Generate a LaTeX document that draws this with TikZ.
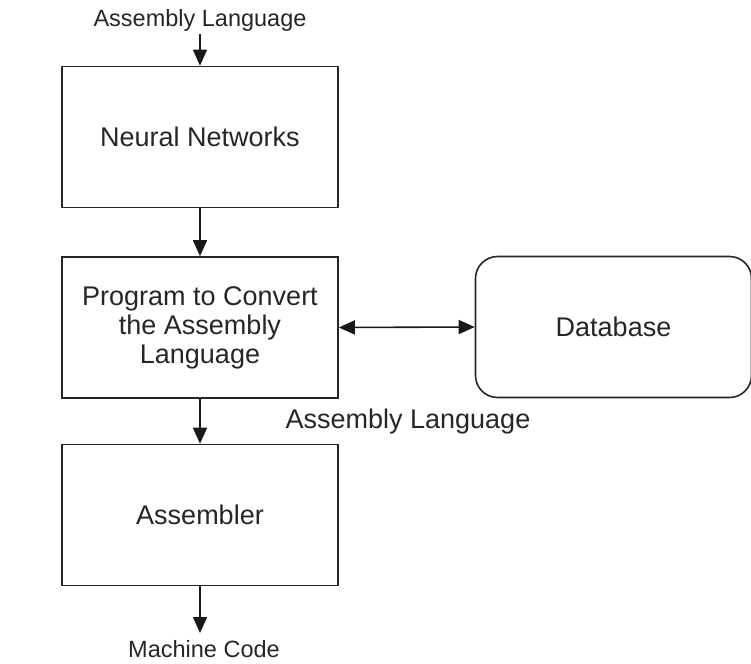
\documentclass[tikz,border=0pt]{standalone}
\usepackage{fontspec}
\setmainfont{Liberation Sans}
\usetikzlibrary{arrows.meta}
\begin{document}
\begin{tikzpicture}[x=1pt,y=-1pt,
  box/.style={draw=black!85,line width=1.6pt,minimum width=276pt,minimum height=141pt,inner sep=0pt,font=\fontsize{27}{29}\selectfont,align=center,text=black!85},
  rbox/.style={box,rounded corners=22pt},
  lbl/.style={inner sep=0pt,font=\fontsize{23.5}{27}\selectfont,text=black!85},
  conn/.style={draw=black!90,line width=1.6pt,-{Triangle[length=16pt,width=14pt]}},
  conn2/.style={draw=black!90,line width=1.6pt,{Triangle[length=16pt,width=14pt]}-{Triangle[length=16pt,width=14pt]}}]
\useasboundingbox (0,0) rectangle (751,663);
\node[lbl] (top) at (200,20) {Assembly Language};
\node[box] (nn) at (200,137) {Neural Networks};
\node[box] (prog) at (200,327.5) {Program to Convert\\the Assembly\\Language};
\node[rbox] (db) at (613.5,327) {Database};
\node[lbl,font=\fontsize{27}{29}\selectfont] (mid) at (408,422) {Assembly Language};
\node[box] (asm) at (200,515) {Assembler};
\node[lbl] (mc) at (204,649) {Machine Code};
\coordinate (topstart) at (200,34);
\coordinate (mcend) at (200,633);
\draw[conn] (topstart) -- (nn.north);
\draw[conn] (nn.south) -- (prog.north);
\draw[conn2] (prog.east) -- (db.west);
\draw[conn] (prog.south) -- (asm.north);
\draw[conn] (asm.south) -- (mcend);
\end{tikzpicture}
\end{document}
